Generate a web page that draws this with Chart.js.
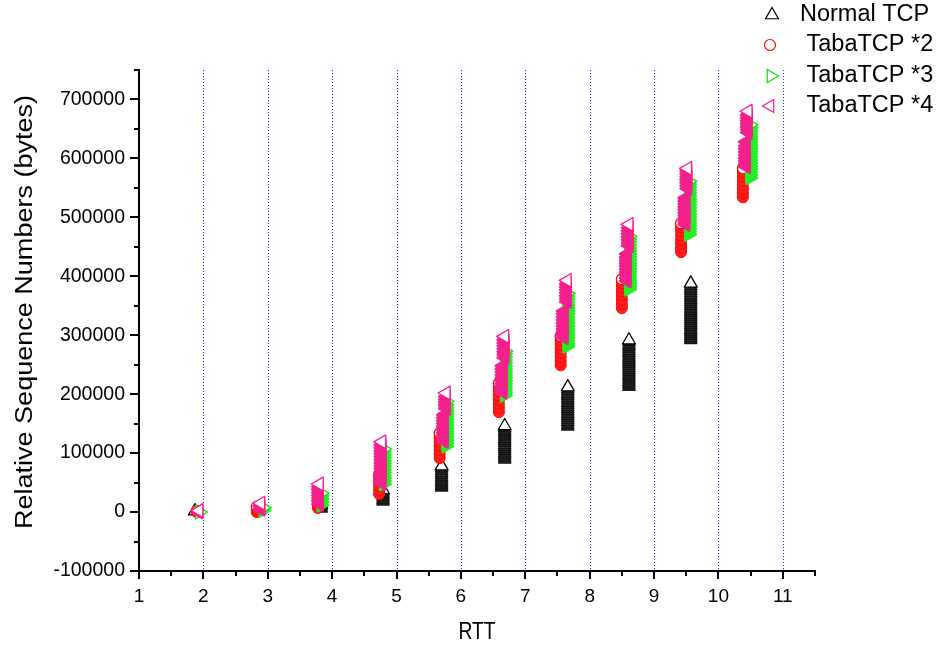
<!DOCTYPE html>
<html>
<head>
<meta charset="utf-8">
<title>Relative Sequence Numbers per RTT</title>
<script src="https://cdn.jsdelivr.net/npm/chart.js@4.4.1/dist/chart.umd.min.js"></script>
<style>
  html, body { margin: 0; padding: 0; background: #fff; }
  canvas { display: block; }
</style>
</head>
<body>
<canvas id="seqChart" width="945" height="646"></canvas>
<script>
// Axis ranges and ticks
const rttRange = [1, 11.5];
const seqRange = [-100000, 750000];
const rttTicks = [1, 2, 3, 4, 5, 6, 7, 8, 9, 10, 11];
const rttMinorTicks = [1.5, 2.5, 3.5, 4.5, 5.5, 6.5, 7.5, 8.5, 9.5, 10.5, 11.5];
const seqTicks = [-100000, 0, 100000, 200000, 300000, 400000, 500000, 600000, 700000];
const seqMinorTicks = [-50000, 50000, 150000, 250000, 350000, 450000, 550000, 650000, 750000];

const seriesNames = ['Normal TCP', ' TabaTCP *2', ' TabaTCP *3', ' TabaTCP *4'];

// One burst per RTT: [rtt position, sequence numbers sent in that burst...]
const normalTcp = [
  [1.87, 1500],
  [2.87, 2000, 5000],
  [3.83, 6000, 9500, 13000],
  [4.79, 17800, 21000, 24500, 28000, 31000, 34500, 37500],
  [5.70, 41500, 45000, 48500, 52000, 55500, 59000, 62500, 66000, 70000, 74000, 78000],
  [6.68, 89000, 92500, 96000, 99500, 103000, 106500, 110000, 113500, 117500, 121000, 124500,
         128000, 131500, 135000, 138500, 142000, 146000],
  [7.66, 145000, 148500, 152500, 156000, 160000, 163500, 167000, 171000, 174500, 178000, 182000,
         185500, 189500, 193000, 197000, 200500, 204500, 208000, 212000],
  [8.61, 212500, 216000, 219500, 223000, 226500, 230000, 233500, 237000, 240500, 244000, 248000,
         251500, 255000, 258500, 262000, 265500, 269500, 273000, 277000, 280500, 284000, 288000, 291500],
  [9.57, 292000, 295500, 299000, 302500, 306000, 309500, 313500, 317000, 320500, 324000, 327500,
         331000, 334500, 338000, 341500, 345000, 349000, 352500, 356500, 360000, 364000, 367500,
         371500, 375500, 379500, 383500, 388000]
];

const tabaX2 = [
  [1.90, 0, 1500],
  [2.83, 0, 4500, 9000],
  [3.78, 7000, 12000, 17000, 22000],
  [4.73, 30500, 37000, 43500, 50000, 56500, 63000],
  [5.67, 91500, 98500, 105500, 112500, 119500, 126500, 133500],
  [6.59, 169500, 176500, 183500, 190500, 197500, 204500, 211500, 218500],
  [7.55, 249000, 256000, 263000, 270000, 277000, 284000, 291000, 298000],
  [8.50, 346000, 353000, 360000, 367000, 374000, 381000, 388000, 395000],
  [9.42, 441000, 448000, 455000, 462000, 469000, 476000, 483000, 490000],
  [10.38, 534000, 541000, 548000, 555000, 562000, 569000, 576000, 583000]
];

const tabaX3 = [
  [1.94, 0],
  [2.93, 3000, 7500],
  [3.83, 12000, 17000, 22000, 27000, 32000],
  [4.80, 47500, 52500, 57500, 62500, 67500, 72500, 77500, 82500, 87500, 92500, 97500, 102500, 107000],
  [5.77, 112000, 117000, 122000, 127000, 132000, 137000, 142000, 147000, 152000, 157000, 162000,
         167000, 172000, 177000, 182000, 188000],
  [6.68, 198000, 203000, 208000, 213000, 218000, 223000, 228000, 233000, 238000, 243000, 248000,
         253000, 258000, 263000, 268000, 273000],
  [7.65, 281000, 286000, 291000, 296000, 301000, 306000, 311000, 316000, 321000, 326000, 331000,
         336000, 341000, 346000, 351000, 356000, 361000, 366000, 371000],
  [8.61, 378000, 383000, 388000, 393000, 398000, 403000, 408000, 413000, 418000, 423000, 428000,
         433000, 438000, 443000, 448000, 453000, 458000, 463000, 468000],
  [9.54, 471000, 476000, 481000, 486000, 491000, 496000, 501000, 506000, 511000, 516000, 521000,
         526000, 531000, 536000, 541000, 546000, 551000, 556000, 561000],
  [10.49, 567000, 572000, 577000, 582000, 587000, 592000, 597000, 602000, 607000, 612000, 617000,
          622000, 627000, 632000, 637000, 642000, 647000, 652000, 657000]
];

// TabaTCP *4 sends each burst in two runs; the first run of each RTT
const tabaX4First = [
  [5.74, 120000, 125000, 130000, 135000, 140000, 145000, 150000, 155000, 160000, 165000],
  [6.65, 203000, 208000, 213000, 218000, 223000, 228000, 233000, 238000, 243000, 248000],
  [7.60, 296000, 301000, 306000, 311000, 316000, 321000, 326000, 331000, 336000, 341000],
  [8.58, 392000, 397000, 402000, 407000, 412000, 417000, 422000, 427000, 432000, 438000],
  [9.49, 488000, 493000, 498000, 503000, 508000, 513000, 518000, 523000, 528000, 533000],
  [10.43, 586000, 591000, 596000, 601000, 606000, 611000, 616000, 621000, 628000]
];
// ...and the closing run (the only run for the early RTTs)
const tabaX4Last = [
  [1.93, 0, 2500],
  [2.89, 5000, 10000, 15000],
  [3.80, 13500, 18500, 23500, 28500, 33500, 38500, 43000, 47500],
  [4.77, 49000, 54000, 59000, 64000, 69000, 74000, 79000, 84000, 89000, 94000, 99000, 104000,
         109000, 114000, 119000],
  [5.77, 176000, 181000, 186000, 191000, 196000, 202000],
  [6.68, 262000, 267000, 272000, 277000, 282000, 287000, 292000, 298000],
  [7.65, 357000, 362000, 367000, 372000, 377000, 382000, 387000, 393000],
  [8.61, 452000, 457000, 462000, 467000, 472000, 477000, 482000, 488000],
  [9.52, 549000, 554000, 559000, 564000, 569000, 574000, 579000, 583000],
  [10.46, 644000, 649000, 654000, 659000, 664000, 669000, 674000, 680000]
];

// Flatten bursts into scatter points; the last marker of a burst stays hollow
function toPoints(bursts, hollowTop) {
  const pts = [];
  bursts.forEach(function(b) {
    const ys = b.slice(1);
    ys.forEach(function(y, i) {
      pts.push({ x: b[0], y: y, top: hollowTop && i === ys.length - 1 });
    });
  });
  return pts;
}

function isTop(c) {
  return !!(c.raw && c.raw.top);
}

// Marker options: packed body markers are solid, the closing one is an outline
function markerOptions(body, edge, topRadius, bodyRadius, bodyWidth) {
  return {
    borderColor: edge,
    pointRadius: function(c) { return isTop(c) ? topRadius : bodyRadius; },
    pointBorderWidth: function(c) { return isTop(c) ? 1.3 : bodyWidth; },
    pointBorderColor: function(c) { return isTop(c) ? edge : body.stroke; },
    pointBackgroundColor: function(c) { return isTop(c) ? '#ffffff' : body.fill; }
  };
}

Chart.defaults.font.family = "'Liberation Sans', Arial, sans-serif";
Chart.defaults.color = '#000';

const datasets = [
  Object.assign({
    label: seriesNames[0],
    data: toPoints(normalTcp, true),
    pointStyle: 'triangle',
    rotation: 0,
    order: 3
  }, markerOptions({ fill: '#303030', stroke: '#141414' }, '#000000', 7.5, 7, 1.5)),
  Object.assign({
    label: seriesNames[1],
    data: toPoints(tabaX2, true),
    pointStyle: 'circle',
    order: 2
  }, markerOptions({ fill: '#ff2020', stroke: '#ff0000' }, '#ff0000', 5.5, 5.5, 1)),
  Object.assign({
    label: seriesNames[2],
    data: toPoints(tabaX3, true),
    pointStyle: 'triangle',
    rotation: 90,
    order: 1
  }, markerOptions({ fill: '#22f022', stroke: '#22f022' }, '#00e600', 8, 7, 2.5)),
  Object.assign({
    label: seriesNames[3],
    data: toPoints(tabaX4First, false).concat(toPoints(tabaX4Last, true)),
    pointStyle: 'triangle',
    rotation: 270,
    order: 0
  }, markerOptions({ fill: '#f4208c', stroke: '#f4208c' }, '#ff1493', 8, 7, 2.5))
];

function markerPath(ctx, style, rotation, x, y, r) {
  ctx.beginPath();
  if (style === 'circle') {
    ctx.arc(x, y, r, 0, Math.PI * 2);
  } else {
    let rad = rotation * Math.PI / 180;
    ctx.moveTo(x + Math.sin(rad) * r, y - Math.cos(rad) * r);
    rad += Math.PI * 2 / 3;
    ctx.lineTo(x + Math.sin(rad) * r, y - Math.cos(rad) * r);
    rad += Math.PI * 2 / 3;
    ctx.lineTo(x + Math.sin(rad) * r, y - Math.cos(rad) * r);
    ctx.closePath();
  }
}

// Dotted RTT grid, minor ticks, axis titles and the legend
const decorations = {
  id: 'decorations',
  beforeDatasetsDraw: function(chart) {
    const ctx = chart.ctx;
    const area = chart.chartArea;
    const xs = chart.scales.x;
    ctx.save();
    ctx.strokeStyle = '#1f1fff';
    ctx.lineWidth = 1;
    ctx.setLineDash([1, 2]);
    rttTicks.forEach(function(v) {
      if (v === rttRange[0]) return;
      const px = Math.round(xs.getPixelForValue(v)) + 0.5;
      ctx.beginPath();
      ctx.moveTo(px, area.top);
      ctx.lineTo(px, area.bottom);
      ctx.stroke();
    });
    ctx.restore();
    // rounded joins keep the packed marker columns solid
    ctx.lineJoin = 'round';
  },
  afterDatasetsDraw: function(chart) {
    chart.ctx.lineJoin = 'miter';
  },
  afterDraw: function(chart) {
    const ctx = chart.ctx;
    const area = chart.chartArea;
    const xs = chart.scales.x;
    const ys = chart.scales.y;
    ctx.save();

    // minor ticks
    ctx.strokeStyle = '#000';
    ctx.lineWidth = 2;
    rttMinorTicks.forEach(function(v) {
      const px = Math.round(xs.getPixelForValue(v));
      ctx.beginPath();
      ctx.moveTo(px, area.bottom);
      ctx.lineTo(px, area.bottom + 5);
      ctx.stroke();
    });
    seqMinorTicks.forEach(function(v) {
      const py = Math.round(ys.getPixelForValue(v));
      ctx.beginPath();
      ctx.moveTo(area.left, py);
      ctx.lineTo(area.left - 5, py);
      ctx.stroke();
    });

    // axis titles
    ctx.fillStyle = '#000';
    ctx.font = "23.5px 'Liberation Sans', Arial, sans-serif";
    ctx.textAlign = 'center';
    ctx.textBaseline = 'middle';
    ctx.save();
    ctx.translate((area.left + area.right) / 2, 633);
    ctx.scale(0.82, 1);
    ctx.fillText('RTT', 0, 0);
    ctx.restore();

    ctx.save();
    ctx.translate(26, 312);
    ctx.rotate(-Math.PI / 2);
    ctx.scale(1.15, 1);
    ctx.fillText('Relative Sequence Numbers (bytes)', 0, 0);
    ctx.restore();

    // legend
    const rowY = [15, 45, 76, 106];
    const markX = [772, 770, 771, 770];
    ctx.textAlign = 'left';
    chart.data.datasets.forEach(function(ds, i) {
      ctx.strokeStyle = ds.borderColor;
      ctx.lineWidth = 1.2;
      markerPath(ctx, ds.pointStyle, ds.rotation || 0, markX[i], rowY[i], ds.pointStyle === 'circle' ? 5.5 : 7.5);
      ctx.stroke();
      ctx.fillStyle = '#000';
      ctx.fillText(ds.label, 800, rowY[i]);
    });
    ctx.restore();
  }
};

new Chart(document.getElementById('seqChart'), {
  type: 'scatter',
  data: { datasets: datasets },
  options: {
    responsive: false,
    animation: false,
    events: [],
    layout: { padding: { top: 70, right: 130, left: 0, bottom: 0 } },
    plugins: {
      legend: { display: false },
      tooltip: { enabled: false }
    },
    scales: {
      x: {
        type: 'linear',
        min: rttRange[0],
        max: rttRange[1],
        afterFit: function(s) { s.height = 75; },
        afterBuildTicks: function(s) { s.ticks = rttTicks.map(function(v) { return { value: v }; }); },
        ticks: {
          autoSkip: false,
          maxRotation: 0,
          padding: 6,
          font: { family: "'Liberation Sans Narrow', 'Liberation Sans', Arial, sans-serif", size: 19 },
          color: '#000'
        },
        grid: { drawOnChartArea: false, tickLength: 8, color: '#000', lineWidth: 2 },
        border: { color: '#000', width: 2 }
      },
      y: {
        type: 'linear',
        min: seqRange[0],
        max: seqRange[1],
        afterFit: function(s) { s.width = 139; },
        afterBuildTicks: function(s) { s.ticks = seqTicks.map(function(v) { return { value: v }; }); },
        ticks: {
          autoSkip: false,
          padding: 5,
          font: { size: 19.5 },
          color: '#000',
          callback: function(value) { return String(value); }
        },
        grid: { drawOnChartArea: false, tickLength: 9, color: '#000', lineWidth: 2 },
        border: { color: '#000', width: 2 }
      }
    }
  },
  plugins: [decorations]
});
</script>
</body>
</html>
